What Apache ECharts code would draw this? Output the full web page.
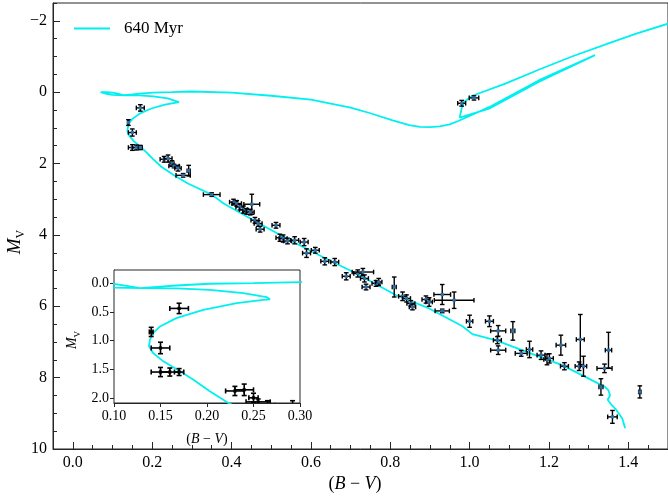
<!DOCTYPE html>
<html><head><meta charset="utf-8">
<script src="https://cdn.jsdelivr.net/npm/echarts@6/dist/echarts.min.js"></script>
<style>html,body{margin:0;padding:0;background:#fff}#c{width:668px;height:498px}</style>
</head><body><div id="c"></div>
<script>
// Isochrone (640 Myr) path, B-V and M_V in drawing order
const isoBV = [1.392,1.385,1.368,1.356,1.348,1.354,1.350,1.341,1.283,1.233,1.132,1.065,1.007,0.982,0.898,0.815,0.714,0.630,0.547,0.463,0.380,0.350,0.290,0.255,0.223,0.203,0.185,0.171,0.153,0.142,0.1376,0.1387,0.142,0.1495,0.167,0.196,0.232,0.2605,0.2677,0.264,0.239,0.203,0.167,0.13,0.10,0.085,0.07,0.085,0.10,0.115,0.128,0.15,0.167,0.203,0.25,0.30,0.40,0.50,0.60,0.70,0.75,0.806,0.848,0.875,0.90,0.925,0.95,0.973,1.049,1.174,1.316,1.174,1.049,0.975,0.980,0.985,1.007,1.09,1.174,1.258,1.35,1.42,1.50];
const isoMV = [9.42,9.15,8.88,8.74,8.62,8.50,8.36,8.26,7.93,7.65,7.23,6.95,6.78,6.56,6.06,5.69,5.08,4.62,4.15,3.64,3.12,2.87,2.56,2.33,2.09,1.885,1.68,1.537,1.363,1.217,1.10,0.986,0.87,0.755,0.609,0.464,0.348,0.29,0.28,0.243,0.174,0.117,0.09,0.085,0.076,0.045,0.0,0.0,0.012,0.05,0.085,0.06,0.04,0.01,0.0,-0.02,0.01,0.10,0.21,0.43,0.59,0.79,0.92,0.97,0.98,0.96,0.90,0.80,0.42,-0.33,-1.04,-0.29,0.46,0.71,0.45,0.28,0.10,-0.24,-0.63,-1.00,-1.37,-1.64,-1.92];

// Stars
const starBV = [0.17,0.14,0.15,0.15,0.16,0.17,0.23,0.24,0.25,0.255,0.265,0.278,0.292,0.350,0.405,0.413,0.421,0.430,0.438,0.451,0.447,0.459,0.467,0.472,0.512,0.522,0.530,0.541,0.559,0.583,0.589,0.611,0.635,0.660,0.689,0.718,0.731,0.735,0.739,0.764,0.771,0.810,0.831,0.841,0.852,0.856,0.890,0.898,0.931,0.961,0.931,1.000,1.050,1.072,1.109,1.070,1.072,1.130,1.151,1.180,1.195,1.201,1.230,1.239,1.279,1.276,1.287,1.350,1.340,1.331,1.360,1.429,0.980,1.011];
const starMV = [0.44,0.85,1.13,1.55,1.55,1.55,1.88,1.86,2.00,2.07,2.13,2.33,2.20,2.87,3.08,3.12,3.22,3.29,3.34,3.14,3.36,3.59,3.68,3.84,3.73,4.08,4.10,4.17,4.15,4.20,4.51,4.43,4.74,4.76,5.16,5.08,5.04,5.22,5.46,5.36,5.32,5.46,5.72,5.78,5.92,6.02,5.81,5.88,5.67,5.83,6.13,6.42,6.42,6.69,6.69,6.95,7.23,7.32,7.21,7.37,7.49,7.46,7.09,7.68,6.93,7.68,7.68,7.23,7.74,8.26,9.10,8.40,0.31,0.16];
const starBVErr = [0.010,0.002,0.010,0.010,0.010,0.005,0.010,0.010,0.005,0.013,0.008,0.018,0.004,0.021,0.010,0.012,0.010,0.010,0.010,0.020,0.010,0.010,0.010,0.010,0.010,0.010,0.010,0.010,0.010,0.010,0.010,0.010,0.010,0.010,0.010,0.010,0.027,0.010,0.010,0.010,0.008,0.005,0.010,0.010,0.010,0.008,0.010,0.008,0.021,0.050,0.018,0.008,0.010,0.019,0.005,0.010,0.019,0.015,0.008,0.010,0.008,0.010,0.012,0.010,0.010,0.010,0.008,0.008,0.019,0.005,0.012,0.003,0.010,0.012];
const starMVErr = [0.09,0.08,0.10,0.08,0.07,0.06,0.08,0.10,0.08,0.05,0.08,0.05,0.15,0.05,0.08,0.08,0.08,0.10,0.08,0.28,0.08,0.08,0.08,0.08,0.08,0.10,0.10,0.08,0.10,0.10,0.12,0.08,0.10,0.10,0.10,0.10,0.10,0.10,0.08,0.08,0.10,0.28,0.12,0.10,0.08,0.08,0.10,0.12,0.28,0.23,0.05,0.17,0.15,0.15,0.26,0.10,0.12,0.08,0.23,0.12,0.15,0.13,0.28,0.10,0.70,0.12,0.28,0.50,0.12,0.23,0.18,0.17,0.08,0.06];

// Tick values
const xMajor = [0.0,0.2,0.4,0.6,0.8,1.0,1.2,1.4];
const yMajor = [-2,0,2,4,6,8,10];
const insetXTicks = [0.10,0.15,0.20,0.25,0.30];
const insetYTicks = [0.0,0.5,1.0,1.5,2.0];
const legendName = '640 Myr';

const xMinor = [], yMinor = [];
for (let i = -1; i <= 30; i++) { const v = +(i * 0.05).toFixed(2); if (Math.abs(v / 0.2 - Math.round(v / 0.2)) > 1e-6) xMinor.push(v); }
for (let i = -5; i <= 20; i++) { const v = i * 0.5; if (v % 2 !== 0) yMinor.push(v); }

const FONT = '"Liberation Serif","DejaVu Serif",serif';
const AX = '#262626';
const CYAN = '#00f0f0';

const isoData = isoBV.map((b, i) => [b, isoMV[i]]);
const starData = starBV.map((b, i) => [b, starMV[i], starBVErr[i], starMVErr[i]]);

function makeRender(cap, lw, marker) {
  return function (params, api) {
    const x = api.value(0), y = api.value(1), xe = api.value(2), ye = api.value(3);
    const c = api.coord([x, y]);
    const l = api.coord([x - xe, y]), r = api.coord([x + xe, y]);
    const t = api.coord([x, y - ye]), b = api.coord([x, y + ye]);
    const st = { stroke: '#000', lineWidth: lw };
    const ch = [
      { type: 'line', shape: { x1: l[0], y1: c[1], x2: r[0], y2: c[1] }, style: st },
      { type: 'line', shape: { x1: c[0], y1: t[1], x2: c[0], y2: b[1] }, style: st },
      { type: 'line', shape: { x1: l[0], y1: c[1] - cap, x2: l[0], y2: c[1] + cap }, style: st },
      { type: 'line', shape: { x1: r[0], y1: c[1] - cap, x2: r[0], y2: c[1] + cap }, style: st },
      { type: 'line', shape: { x1: c[0] - cap, y1: t[1], x2: c[0] + cap, y2: t[1] }, style: st },
      { type: 'line', shape: { x1: c[0] - cap, y1: b[1], x2: c[0] + cap, y2: b[1] }, style: st }
    ];
    ch.push({ type: 'rect', shape: { x: c[0] - 1.6, y: c[1] - 1.6, width: 3.2, height: 3.2 }, style: { fill: marker ? '#2f6fa8' : '#000' } });
    const cs = params.coordSys;
    return { type: 'group', children: ch, clipPath: { type: 'rect', shape: { x: cs.x, y: cs.y, width: cs.width, height: cs.height } } };
  };
}

const tickStyle = { color: AX, width: 1 };
const lineOff = { show: false, onZero: false };
const lineOn = { show: true, onZero: false, lineStyle: { color: AX, width: 1 } };
const option = {
  animation: false,
  backgroundColor: '#fff',
  grid: [
    { left: 53, top: 3, width: 617, height: 446, show: true, borderColor: AX, borderWidth: 1, backgroundColor: 'transparent' },
    { left: 114, top: 270, width: 186, height: 133, show: true, borderColor: AX, borderWidth: 1, backgroundColor: '#fff', z: 5 }
  ],
  legend: {
    data: [legendName], left: 69, top: 15, icon: 'rect', itemWidth: 36, itemHeight: 2, selectedMode: false,
    textStyle: { fontFamily: FONT, fontSize: 17, color: '#000', padding: [0, 0, 0, 9] }
  },
  xAxis: [
    { gridIndex: 0, type: 'value', min: -0.05, max: 1.5, position: 'bottom', axisLine: lineOn,
      axisTick: { show: true, inside: true, length: 7, customValues: xMajor, lineStyle: tickStyle },
      axisLabel: { show: true, customValues: xMajor, formatter: v => v.toFixed(1), fontFamily: FONT, fontSize: 16, color: '#000', margin: 6 },
      splitLine: { show: false } },
    { gridIndex: 0, type: 'value', min: -0.05, max: 1.5, position: 'bottom', axisLine: lineOff,
      axisTick: { show: true, inside: true, length: 4, customValues: xMinor, lineStyle: tickStyle },
      axisLabel: { show: false }, splitLine: { show: false } },
    { gridIndex: 1, type: 'value', min: 0.10, max: 0.30, position: 'bottom', axisLine: lineOn,
      axisTick: { show: true, inside: false, length: 4, customValues: insetXTicks, lineStyle: tickStyle },
      axisLabel: { show: true, customValues: insetXTicks, formatter: v => v.toFixed(2), fontFamily: FONT, fontSize: 14, color: '#000', margin: 6 },
      splitLine: { show: false } }
  ],
  yAxis: [
    { gridIndex: 0, type: 'value', min: -2.5, max: 10, inverse: true, position: 'left', axisLine: lineOn,
      axisTick: { show: true, inside: true, length: 7, customValues: yMajor, lineStyle: tickStyle },
      axisLabel: { show: true, customValues: yMajor, formatter: v => (v < 0 ? '\u2212' + Math.abs(v) : String(v)), fontFamily: FONT, fontSize: 16, color: '#000', margin: 6 },
      splitLine: { show: false } },
    { gridIndex: 0, type: 'value', min: -2.5, max: 10, inverse: true, position: 'left', axisLine: lineOff,
      axisTick: { show: true, inside: true, length: 4, customValues: yMinor, lineStyle: tickStyle },
      axisLabel: { show: false }, splitLine: { show: false } },
    { gridIndex: 1, type: 'value', min: -0.23, max: 2.09, inverse: true, position: 'left', axisLine: lineOn,
      axisTick: { show: true, inside: false, length: 4, customValues: insetYTicks, lineStyle: tickStyle },
      axisLabel: { show: true, customValues: insetYTicks, formatter: v => v.toFixed(1), fontFamily: FONT, fontSize: 14, color: '#000', margin: 5 },
      splitLine: { show: false } }
  ],
  series: [
    { name: legendName, type: 'line', xAxisIndex: 0, yAxisIndex: 0, data: isoData, showSymbol: false, symbol: 'none',
      lineStyle: { color: CYAN, width: 1.8 }, itemStyle: { color: CYAN }, clip: true, z: 2 },
    { name: 'stars', type: 'custom', xAxisIndex: 0, yAxisIndex: 0, data: starData, renderItem: makeRender(2.3, 1.4, true), z: 3 },
    { name: 'iso-inset', type: 'line', xAxisIndex: 2, yAxisIndex: 2, data: isoData, showSymbol: false, symbol: 'none',
      lineStyle: { color: CYAN, width: 1.8 }, clip: true, z: 6 },
    { name: 'stars-inset', type: 'custom', xAxisIndex: 2, yAxisIndex: 2, data: starData, renderItem: makeRender(2.5, 1.6, false), z: 7 }
  ],
  graphic: [
    { type: 'text', x: 355, y: 484, z: 10, style: { text: '{n|(}{i|B}{n| \u2212 }{i|V}{n|)}', align: 'center', verticalAlign: 'middle',
      rich: { n: { fontFamily: FONT, fontSize: 18, color: '#000' }, i: { fontFamily: FONT, fontSize: 18, fontStyle: 'italic', color: '#000' } } } },
    { type: 'text', x: 16, y: 242, rotation: Math.PI / 2, z: 10, style: { text: '{m|M}{s|V}', align: 'center', verticalAlign: 'middle',
      rich: { m: { fontFamily: FONT, fontSize: 19, fontStyle: 'italic', color: '#000', verticalAlign: 'top', lineHeight: 22 },
              s: { fontFamily: FONT, fontSize: 12, color: '#000', verticalAlign: 'bottom', lineHeight: 9 } } } },
    { type: 'text', x: 207, y: 439, z: 10, style: { text: '{n|(}{i|B}{n| \u2212 }{i|V}{n|)}', align: 'center', verticalAlign: 'middle',
      rich: { n: { fontFamily: FONT, fontSize: 14, color: '#000' }, i: { fontFamily: FONT, fontSize: 14, fontStyle: 'italic', color: '#000' } } } },
    { type: 'text', x: 74, y: 340, rotation: Math.PI / 2, z: 10, style: { text: '{m|M}{s|V}', align: 'center', verticalAlign: 'middle',
      rich: { m: { fontFamily: FONT, fontSize: 14, fontStyle: 'italic', color: '#000', verticalAlign: 'top', lineHeight: 17 },
              s: { fontFamily: FONT, fontSize: 9, color: '#000', verticalAlign: 'bottom', lineHeight: 7 } } } }
  ]
};
const chart = echarts.init(document.getElementById('c'), null, { renderer: 'canvas', width: 668, height: 498 });
chart.setOption(option);
</script>
</body></html>
